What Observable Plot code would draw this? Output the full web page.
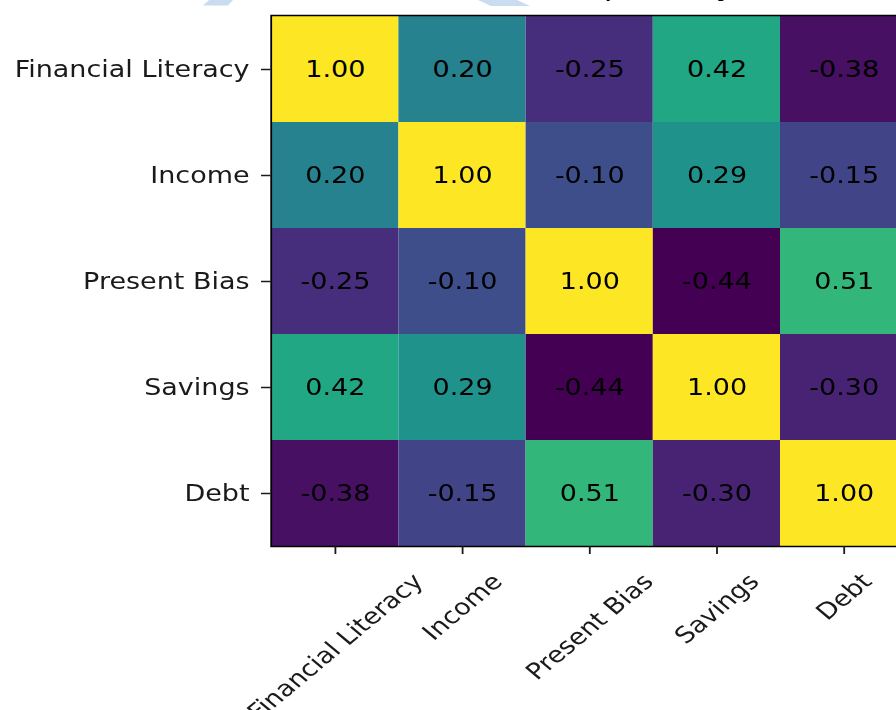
<!DOCTYPE html>
<html>
<head>
<meta charset="utf-8">
<script src="https://cdn.jsdelivr.net/npm/d3@7"></script>
<script src="https://cdn.jsdelivr.net/npm/@observablehq/plot@0.6"></script>
<style>
  html, body { margin: 0; padding: 0; background: #fff; overflow: hidden; width: 896px; height: 710px; }
  #wrap { position: absolute; left: 0; top: -40px; transform: scaleX(1.2); transform-origin: 0 0; }
  #wm { position: absolute; left: 0; top: 0; }
</style>
</head>
<body>
<div id="wrap"></div>
<svg id="wm" width="896" height="10">
  <polygon points="209,0 233,0 228,5.5 203,5.5" fill="#c9dcf0"/>
  <polygon points="478,0 517,0 530,6 491,6" fill="#c9dcf0"/>
</svg>
<script>
const variables = ["Financial Literacy", "Income", "Present Bias", "Savings", "Debt"];
const corrFinancialLiteracy = [1.00, 0.20, -0.25, 0.42, -0.38];
const corrIncome            = [0.20, 1.00, -0.10, 0.29, -0.15];
const corrPresentBias       = [-0.25, -0.10, 1.00, -0.44, 0.51];
const corrSavings           = [0.42, 0.29, -0.44, 1.00, -0.30];
const corrDebt              = [-0.38, -0.15, 0.51, -0.30, 1.00];
const titleText = "Correlation Heatmap of Key Variables";

const matrix = [corrFinancialLiteracy, corrIncome, corrPresentBias, corrSavings, corrDebt];
const cells = [];
matrix.forEach((row, i) => row.forEach((v, j) => cells.push({row: variables[i], col: variables[j], v})));

const FS = 22.5;
const FONT = "DejaVu Sans";
const ctx = document.createElement("canvas").getContext("2d");
ctx.font = `${FS}px "${FONT}"`;
const H = 1.164 * FS;
const tickSize = 8, pad = 14;

const xLabels = variables.map(v => {
  const L = ctx.measureText(v).width;
  const dy = tickSize + pad + (L + H) * Math.SQRT1_2 / 2;
  return Plot.text([v], {
    x: d => d, frameAnchor: "bottom", dy, rotate: -45,
    textAnchor: "middle", lineAnchor: "middle",
    fontSize: FS, fill: "#1a1a1a"
  });
});

const chart = Plot.plot({
  width: 760,
  height: 750,
  marginLeft: 225.5,
  marginRight: 3.25,
  marginTop: 55,
  marginBottom: 164,
  style: {fontFamily: FONT, fontSize: FS + "px", background: "transparent", color: "#1a1a1a"},
  x: {domain: variables, padding: 0, label: null},
  y: {domain: variables, padding: 0, label: null},
  color: {type: "linear", scheme: "viridis", domain: [-0.44, 1]},
  marks: [
    Plot.cell(cells, {x: "col", y: "row", fill: "v", inset: 0}),
    Plot.text(cells, {x: "col", y: "row", text: d => d.v.toFixed(2), fill: "black", fontSize: FS}),
    Plot.frame({stroke: "black", strokeWidth: 1.5}),
    Plot.axisY({tickSize, tickPadding: 10, label: null, fontSize: FS, strokeWidth: 1.5}),
    Plot.axisX({tickSize, tickFormat: () => "", label: null, strokeWidth: 1.5}),
    ...xLabels,
    Plot.text([titleText], {text: d => d, frameAnchor: "top", dy: -21, lineAnchor: "bottom", fontSize: 27, fill: "black"})
  ]
});
document.getElementById("wrap").appendChild(chart);
</script>
</body>
</html>
